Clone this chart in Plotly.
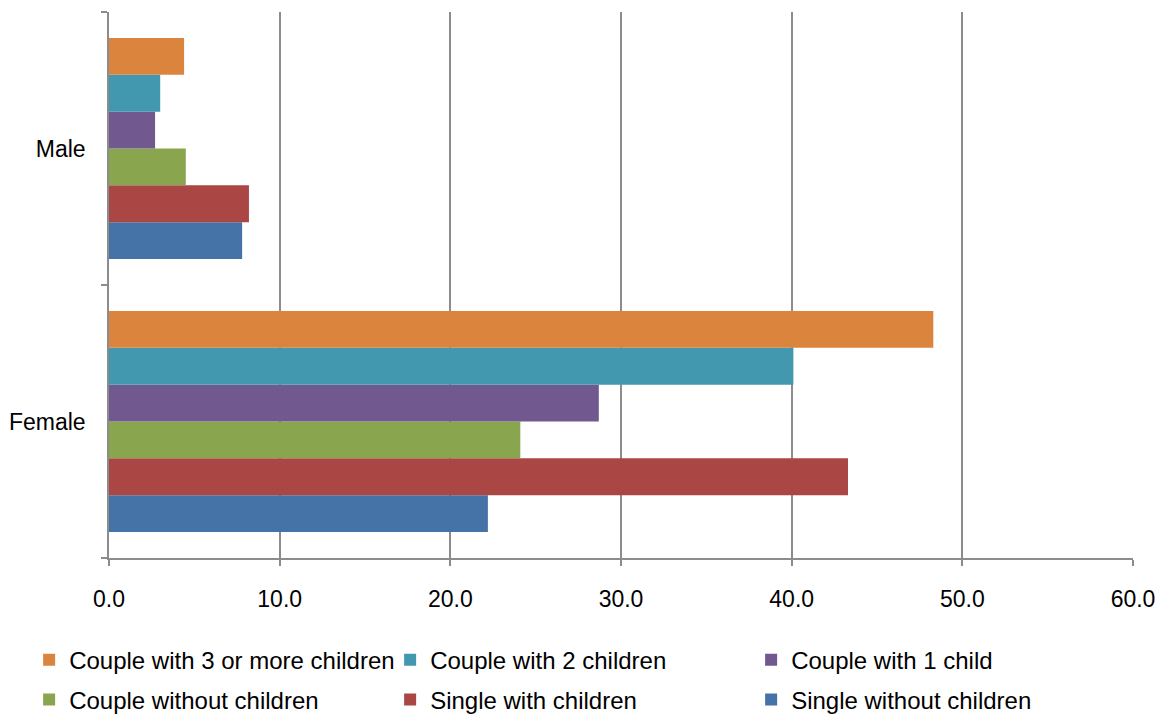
import plotly.graph_objects as go

categories = ["Female", "Male"]

series_names = [
    "Single without children",
    "Single with children",
    "Couple without children",
    "Couple with 1 child",
    "Couple with 2 children",
    "Couple with 3 or more children",
]
series_colors = ["#4572A7", "#AA4643", "#89A54E", "#71588F", "#4198AF", "#DB843D"]

single_without = [22.2, 7.8]
single_with = [43.3, 8.2]
couple_without = [24.1, 4.5]
couple_1 = [28.7, 2.7]
couple_2 = [40.1, 3.0]
couple_3plus = [48.3, 4.4]

series_values = [single_without, single_with, couple_without, couple_1, couple_2, couple_3plus]
legend_ids = ["legend2", "legend2", "legend2", "legend", "legend", "legend"]

x_ticks = [0, 10, 20, 30, 40, 50, 60]

FONT = "Liberation Sans, Arial, sans-serif"
GRID = "#8C8C8C"

fig = go.Figure()
for name, vals, col, lg in zip(series_names, series_values, series_colors, legend_ids):
    fig.add_trace(go.Bar(
        y=categories, x=vals, name=name, orientation="h",
        marker=dict(color=col, line=dict(width=0)),
        legend=lg,
    ))

legend_common = dict(
    orientation="h", traceorder="reversed",
    entrywidth=316, entrywidthmode="pixels",
    font=dict(family=FONT, size=24, color="black"),
    bgcolor="rgba(0,0,0,0)", xref="paper", yref="paper",
    xanchor="left", yanchor="middle",
)

fig.update_layout(
    width=1166, height=718,
    margin=dict(l=109, r=33, t=12, b=160, autoexpand=False),
    paper_bgcolor="white", plot_bgcolor="white",
    barmode="group", bargap=0.19, bargroupgap=0,
    font=dict(family=FONT, size=23, color="black"),
    legend=dict(x=-0.078, y=-0.187, **legend_common),
    legend2=dict(x=-0.078, y=-0.26, **legend_common),
    xaxis=dict(
        range=[0, 60], tickvals=x_ticks, tickformat=".1f",
        showgrid=True, gridcolor=GRID, gridwidth=1.5,
        showline=True, linecolor=GRID, linewidth=1.5,
        ticks="outside", ticklen=6, tickcolor=GRID, tickwidth=1.5,
        zeroline=False, ticklabelstandoff=14,
    ),
    yaxis=dict(
        type="category", range=[-0.5, 1.5],
        tickson="boundaries", ticks="outside", ticklen=6,
        tickcolor=GRID, tickwidth=1.5,
        showline=True, linecolor=GRID, linewidth=1.5,
        showgrid=False, zeroline=False, ticklabelstandoff=17,
    ),
)

fig.write_html(
    "out.html",
    config={"displayModeBar": False},
    post_script="document.body.style.margin='0';document.body.style.overflow='hidden';",
)
